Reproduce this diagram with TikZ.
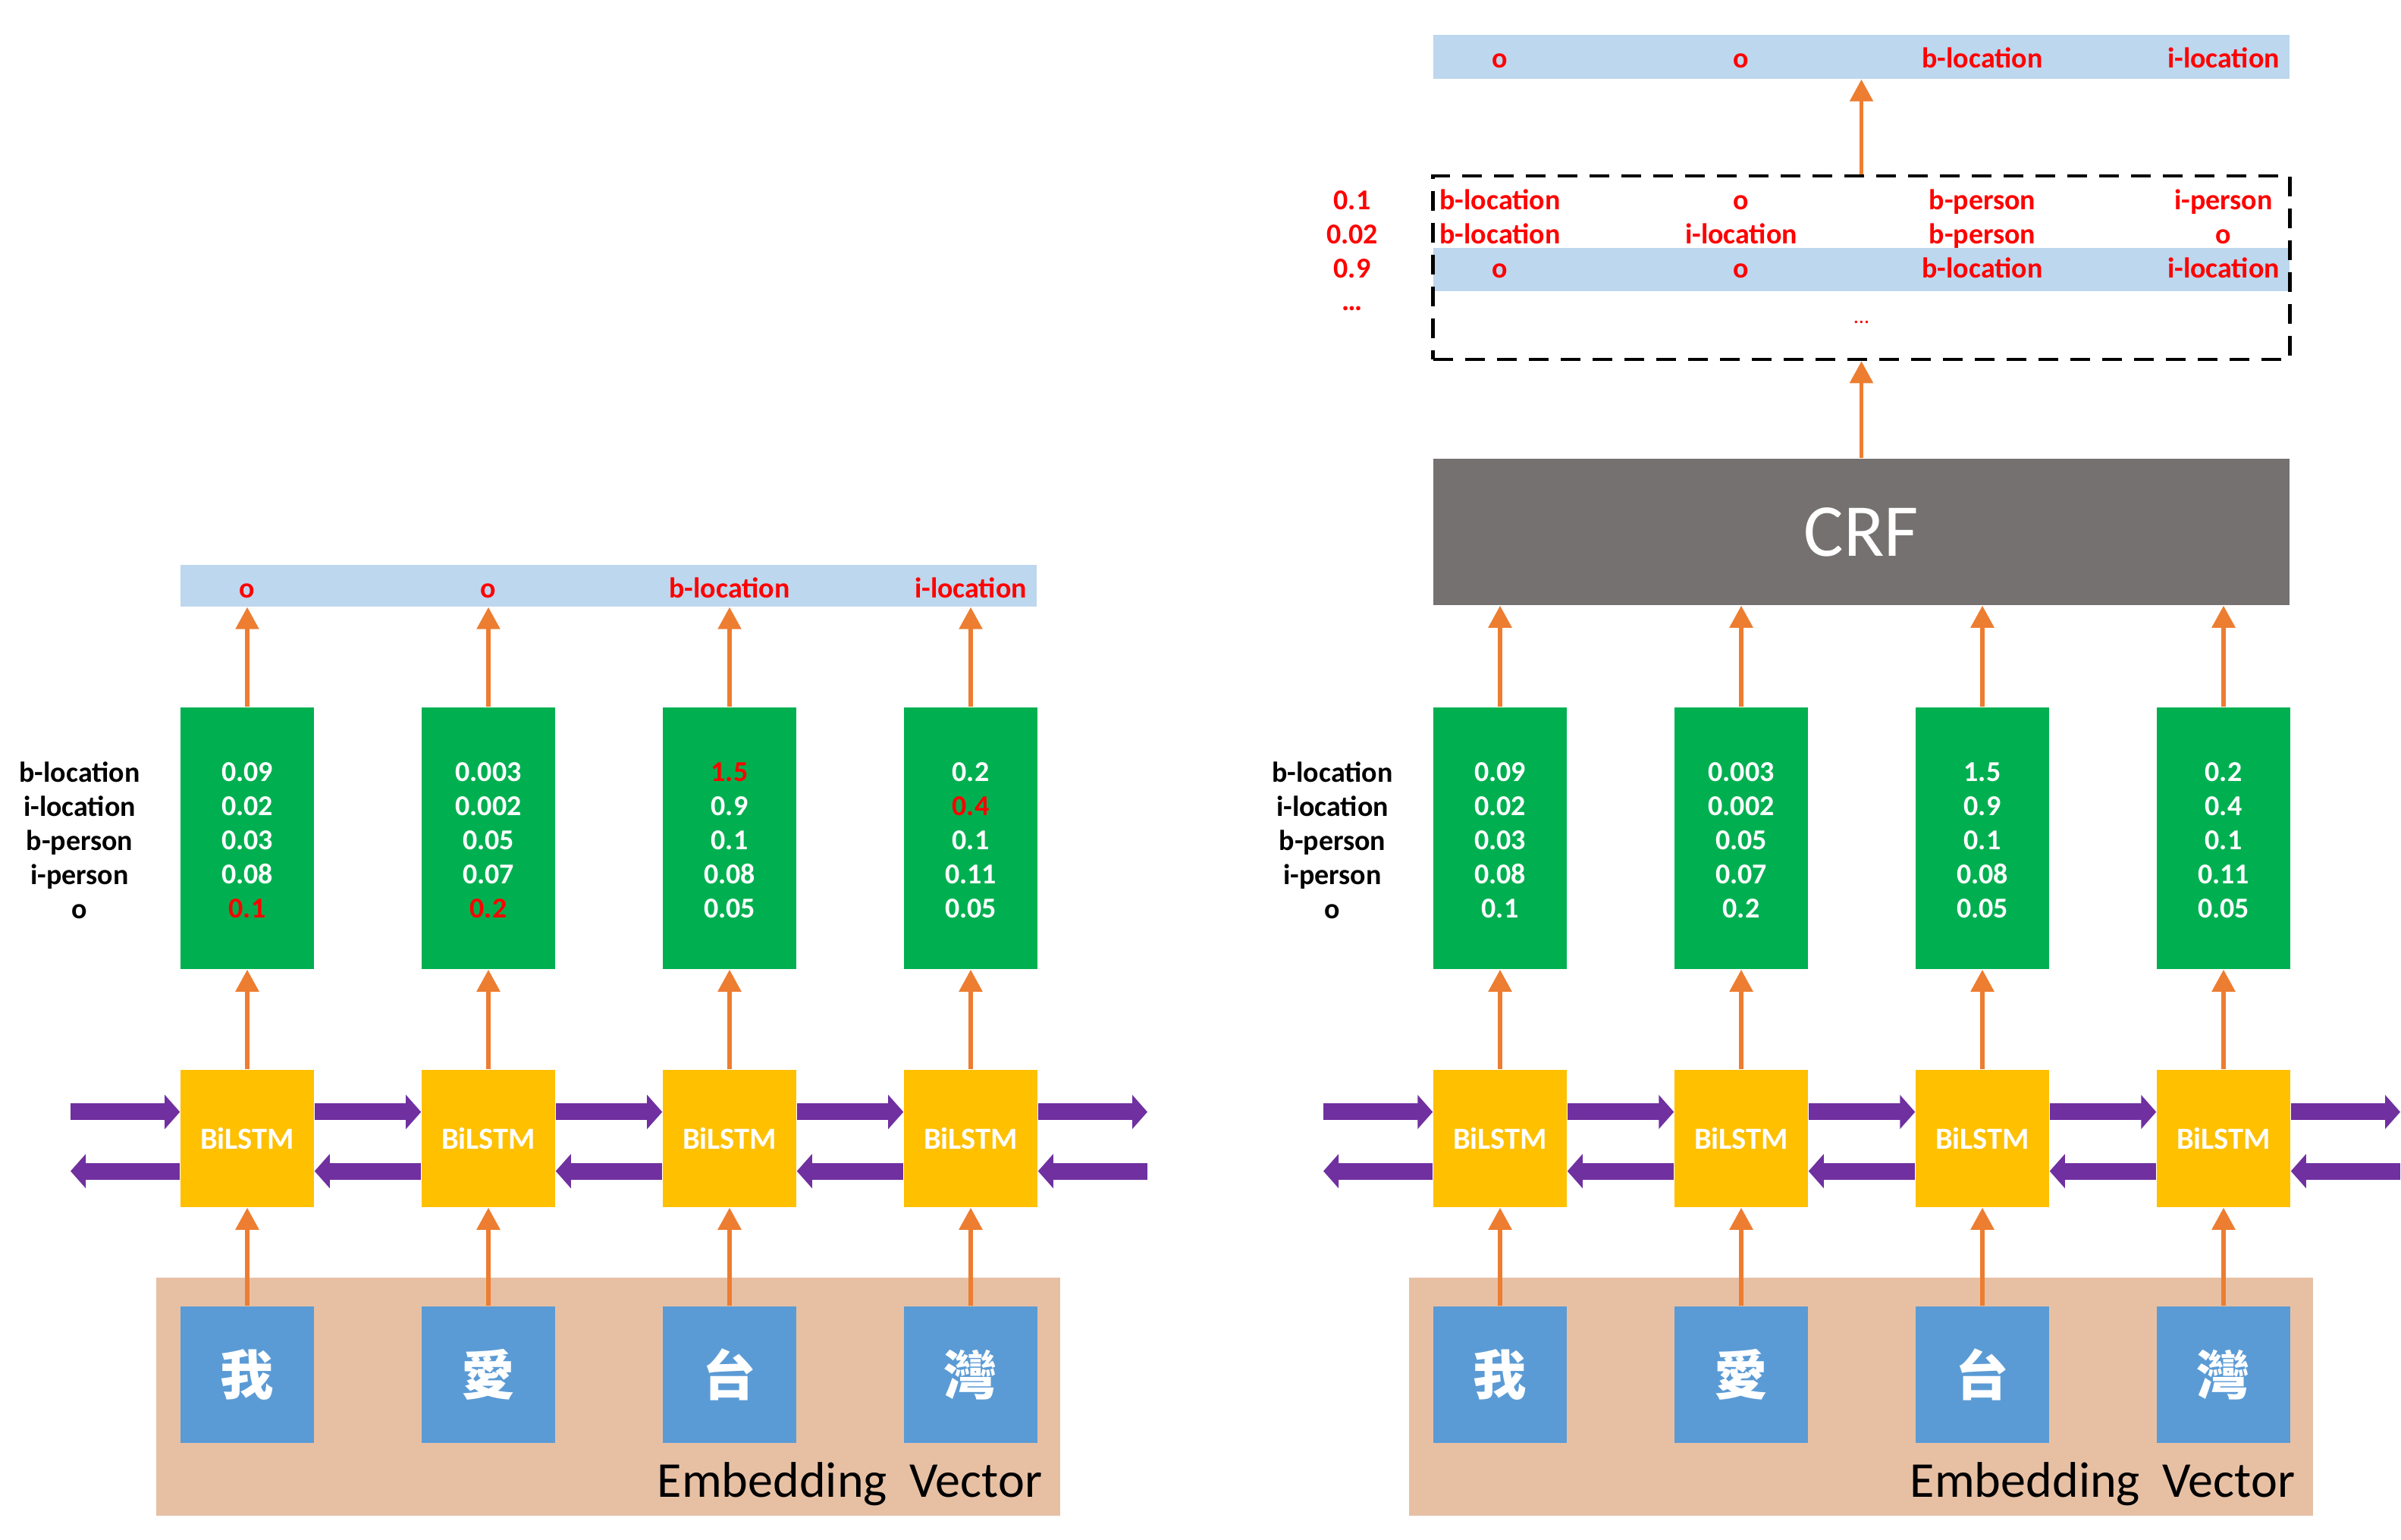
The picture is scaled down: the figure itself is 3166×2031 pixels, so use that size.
\documentclass[tikz,border=0pt]{standalone}
\usepackage{fontspec}
\setmainfont{Carlito}
\newfontfamily\cjk{Noto Sans CJK TC}
\usetikzlibrary{arrows.meta}
\definecolor{cgreen}{HTML}{00B050}
\definecolor{cyellow}{HTML}{FFC000}
\definecolor{cblue}{HTML}{5B9BD5}
\definecolor{clight}{HTML}{BDD7EE}
\definecolor{cembed}{HTML}{E7C0A4}
\definecolor{cgray}{HTML}{767171}
\definecolor{cpurple}{HTML}{7030A0}
\definecolor{corange}{HTML}{ED7D31}
\newcommand\rd[1]{\textcolor{red}{#1}}
\begin{document}
\begin{tikzpicture}[x=0.01cm,y=-0.01cm,
  lab/.style={font=\fontsize{10.8}{12.8}\selectfont\bfseries, align=center, inner sep=0pt},
  rt/.style={lab, text=red, anchor=base},
  prob/.style={fill=cgreen, minimum width=1.76cm, minimum height=3.45cm, inner sep=0pt},
  vals/.style={lab, text=white},
  lstm/.style={fill=cyellow, minimum width=1.76cm, minimum height=1.81cm, inner sep=0pt, text=white, font=\fontsize{11.5}{13}\selectfont\bfseries},
  emb/.style={fill=cblue, minimum width=1.76cm, minimum height=1.80cm, inner sep=0pt, text=white, font=\cjk\bfseries\fontsize{20}{24}\selectfont},
  embbg/.style={fill=cembed, minimum width=11.92cm, minimum height=3.14cm, inner sep=0pt},
  ebtext/.style={font=\fontsize{18.8}{22}\selectfont, inner sep=0pt, anchor=base east},
  bar/.style={fill=clight, minimum width=11.29cm, inner sep=0pt},
  oarr/.style={draw=corange, line width=0.055cm, -{Triangle[width=0.3cm,length=0.29cm]}},
  fwd/.style={draw=cpurple, line width=0.22cm, -{Triangle[width=0.44cm,length=0.2cm]}}
]
\useasboundingbox (0,0) rectangle (3166,2031);

% ---------- shared lower structure for both panels ----------
\foreach \p/\dx in {L/0,R/1652}{
  \node[embbg] (\p bg) at (\dx+802,1842) {};
  \node[ebtext] (\p ev) at (\dx+1375,1974) {Embedding\hspace{0.45em}Vector};
  \foreach \i/\ch in {1/我,2/愛,3/台,4/灣}{
    \node[emb] (\p e\i) at (\dx+8+318*\i,1813) {\ch};
    \node[lstm] (\p l\i) at (\dx+8+318*\i,1501.5) {\raisebox{-0.06cm}{BiLSTM}};
    \draw[oarr] (\p e\i) -- (\p l\i);
  }
  \coordinate (\p wl) at (\dx+93,1501.5);
  \coordinate (\p wr) at (\dx+1513,1501.5);
  \draw[fwd] ([yshift=0.35cm]\p wl) -- ([yshift=0.35cm]\p l1.west);
  \draw[fwd] ([yshift=-0.43cm]\p l1.west) -- ([yshift=-0.43cm]\p wl);
  \foreach \a/\b in {1/2,2/3,3/4}{
    \draw[fwd] ([yshift=0.35cm]\p l\a.east) -- ([yshift=0.35cm]\p l\b.west);
    \draw[fwd] ([yshift=-0.43cm]\p l\b.west) -- ([yshift=-0.43cm]\p l\a.east);
  }
  \draw[fwd] ([yshift=0.35cm]\p l4.east) -- ([yshift=0.35cm]\p wr);
  \draw[fwd] ([yshift=-0.43cm]\p wr) -- ([yshift=-0.43cm]\p l4.east);
  \node[lab] (\p rl) at (\dx+105,1108) {b-location\\i-location\\b-person\\i-person\\o};
}

% ---------- left panel ----------
\node[prob] (Lg1) at (326,1105.5) {};
\node[prob] (Lg2) at (644,1105.5) {};
\node[prob] (Lg3) at (962,1105.5) {};
\node[prob] (Lg4) at (1280,1105.5) {};
\node[vals] (Lv1) at (326,1108.5) {0.09\\0.02\\0.03\\0.08\\\rd{0.1}};
\node[vals] (Lv2) at (644,1108.5) {0.003\\0.002\\0.05\\0.07\\\rd{0.2}};
\node[vals] (Lv3) at (962,1108.5) {\rd{1.5}\\0.9\\0.1\\0.08\\0.05};
\node[vals] (Lv4) at (1280,1108.5) {0.2\\\rd{0.4}\\0.1\\0.11\\0.05};
\node[bar, minimum height=0.55cm] (Lbar) at (802.5,772.5) {};
\node[rt] (Lt1) at (326,788) {o};
\node[rt] (Lt2) at (644,788) {o};
\node[rt] (Lt3) at (962,788) {b-location};
\node[rt] (Lt4) at (1280,788) {i-location};
\foreach \i in {1,...,4}{
  \draw[oarr] (Ll\i) -- (Lg\i);
  \draw[oarr] (Lg\i) -- (Lg\i |- Lbar.south);
}

% ---------- right panel ----------
\node[prob] (Rg1) at (1978,1105.5) {};
\node[prob] (Rg2) at (2296,1105.5) {};
\node[prob] (Rg3) at (2614,1105.5) {};
\node[prob] (Rg4) at (2932,1105.5) {};
\node[vals] (Rv1) at (1978,1108.5) {0.09\\0.02\\0.03\\0.08\\0.1};
\node[vals] (Rv2) at (2296,1108.5) {0.003\\0.002\\0.05\\0.07\\0.2};
\node[vals] (Rv3) at (2614,1108.5) {1.5\\0.9\\0.1\\0.08\\0.05};
\node[vals] (Rv4) at (2932,1108.5) {0.2\\0.4\\0.1\\0.11\\0.05};
\node[fill=cgray, minimum width=11.29cm, minimum height=1.93cm, inner sep=0pt, text=white, font=\fontsize{28}{32}\selectfont] (crf) at (2454.5,701.5) {\raisebox{-0.03cm}{CRF}};
\foreach \i in {1,...,4}{
  \draw[oarr] (Rl\i) -- (Rg\i);
  \draw[oarr] (Rg\i) -- (Rg\i |- crf.south);
}
\node[bar, minimum height=0.57cm] (hl) at (2454.5,355.5) {};
\node[draw=black, line width=0.045cm, dash pattern=on 0.26cm off 0.16cm, minimum width=11.29cm, minimum height=2.42cm, inner sep=0pt] (dbox) at (2454.5,353) {};
\node[bar, minimum height=0.58cm] (topR) at (2454.5,75) {};
\draw[oarr] (crf) -- (dbox);
\draw[oarr] (dbox) -- (topR);

\node[rt] (Rt1) at (1978,90) {o};
\node[rt] (Rt2) at (2296,90) {o};
\node[rt] (Rt3) at (2614,90) {b-location};
\node[rt] (Rt4) at (2932,90) {i-location};

\node[rt] (s11) at (1978,277) {b-location};
\node[rt] (s12) at (2296,277) {o};
\node[rt] (s13) at (2614,277) {b-person};
\node[rt] (s14) at (2932,277) {i-person};
\node[rt] (s21) at (1978,322) {b-location};
\node[rt] (s22) at (2296,322) {i-location};
\node[rt] (s23) at (2614,322) {b-person};
\node[rt] (s24) at (2932,322) {o};
\node[rt] (s31) at (1978,367) {o};
\node[rt] (s32) at (2296,367) {o};
\node[rt] (s33) at (2614,367) {b-location};
\node[rt] (s34) at (2932,367) {i-location};
\node[rt, font=\fontsize{8}{10}\selectfont] (s4) at (2454.5,427) {…};

\node[rt] (n1) at (1783,277) {0.1};
\node[rt] (n2) at (1783,322) {0.02};
\node[rt] (n3) at (1783,367) {0.9};
\node[rt] (n4) at (1783,410) {…};
\end{tikzpicture}
\end{document}
